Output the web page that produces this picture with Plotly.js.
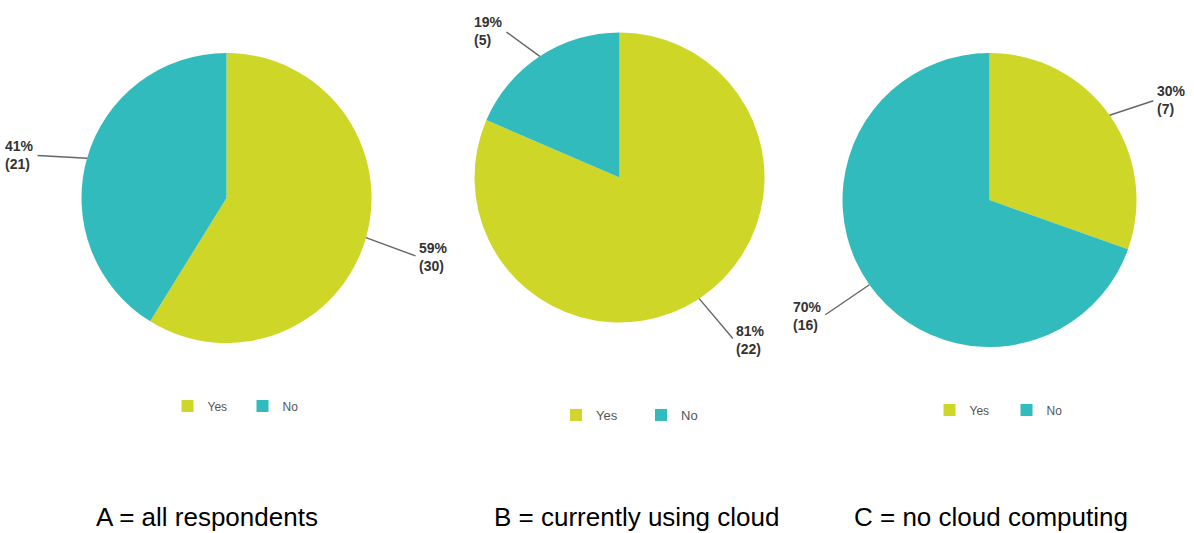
<!DOCTYPE html>
<html>
<head>
<meta charset="utf-8">
<script src="https://cdn.plot.ly/plotly-3.0.1.min.js"></script>
<style>
  html, body { margin: 0; padding: 0; background: #ffffff; }
  #chart { width: 1194px; height: 533px; }
</style>
</head>
<body>
<div id="chart"></div>
<script>
// Survey answers (Yes / No), by respondent group
const answerLabels = ['Yes', 'No'];
const countsAll = [30, 21];        // A = all respondents
const countsUsingCloud = [22, 5];  // B = currently using cloud
const countsNoCloud = [7, 16];     // C = no cloud computing
const groupCaptions = ['A = all respondents', 'B = currently using cloud', 'C = no cloud computing'];

const sliceColors = ['#CED628', '#32BBBD'];

const W = 1194, H = 533;

// Pixel placement of each pie (center and radius) and its legend row
const pies = [
  { group: 'A', counts: countsAll,        cx: 226.5, cy: 198,   r: 145, legend: 'legend',  legY: 406, legX: 187.5, legFont: 12, entry: 30, capX: 207 },
  { group: 'B', counts: countsUsingCloud, cx: 619.5, cy: 177.5, r: 145, legend: 'legend2', legY: 415, legX: 576,   legFont: 13, entry: 40, capX: 636 },
  { group: 'C', counts: countsNoCloud,    cx: 989.5, cy: 200,   r: 147, legend: 'legend3', legY: 410, legX: 949.5, legFont: 12, entry: 32, capX: 991 }
];

const px = x => x / W;
const py = y => 1 - y / H;
const FONT = 'Liberation Sans, Arial, sans-serif';

const data = pies.map(p => ({
  type: 'pie',
  name: p.group,
  labels: answerLabels,
  values: p.counts,
  sort: false,
  direction: 'clockwise',
  rotation: 0,
  textinfo: 'none',
  hoverinfo: 'label+value+percent',
  marker: { colors: sliceColors, line: { width: 0 } },
  domain: { x: [px(p.cx - p.r), px(p.cx + p.r)], y: [py(p.cy + p.r), py(p.cy - p.r)] },
  legend: p.legend,
  legendgroup: p.group,
  showlegend: true
}));

// Outside value labels with leader lines, placed at each slice's mid angle
const annotations = [];
pies.forEach(p => {
  const total = p.counts.reduce((a, b) => a + b, 0);
  let start = 0;
  p.counts.forEach(v => {
    const frac = v / total;
    const mid = (start + frac / 2) * 2 * Math.PI;  // clockwise from 12 o'clock
    start += frac;
    const dx = Math.sin(mid), dy = -Math.cos(mid);  // screen direction
    const ex = p.cx + dx * p.r, ey = p.cy + dy * p.r;
    const side = dx >= 0 ? 1 : -1;
    annotations.push({
      xref: 'paper', yref: 'paper',
      x: px(ex), y: py(ey),
      ax: dx * 40 + side * 13,
      ay: dy * 40 + 8,
      axref: 'pixel', ayref: 'pixel',
      xanchor: side > 0 ? 'left' : 'right',
      yanchor: 'middle',
      align: 'left',
      text: '<b>' + Math.round(frac * 100) + '%<br>(' + v + ')</b>',
      font: { family: FONT, size: 14, color: '#333333' },
      showarrow: true,
      arrowhead: 0,
      arrowwidth: 1.4,
      arrowcolor: '#666666',
      standoff: 0,
      startstandoff: 2
    });
  });
});

// Group captions along the bottom
pies.forEach((p, i) => {
  annotations.push({
    xref: 'paper', yref: 'paper',
    x: px(p.capX), y: py(517),
    xanchor: 'center', yanchor: 'middle',
    text: groupCaptions[i],
    showarrow: false,
    font: { family: FONT, size: 26, color: '#000000' }
  });
});

const layout = {
  width: W, height: H,
  margin: { l: 0, r: 0, t: 0, b: 0, pad: 0 },
  paper_bgcolor: '#ffffff',
  plot_bgcolor: '#ffffff',
  font: { family: FONT, color: '#555555' },
  annotations: annotations
};

pies.forEach(p => {
  layout[p.legend] = {
    orientation: 'h',
    traceorder: 'normal',
    x: px(p.legX - 20), xanchor: 'left',
    y: py(p.legY), yanchor: 'middle',
    entrywidth: p.entry,
    entrywidthmode: 'pixels',
    tracegroupgap: 0,
    bgcolor: 'rgba(0,0,0,0)',
    font: { family: FONT, size: p.legFont, color: '#555555' },
    itemclick: false, itemdoubleclick: false
  };
});

Plotly.newPlot('chart', data, layout, { displayModeBar: false, staticPlot: true });
</script>
</body>
</html>
